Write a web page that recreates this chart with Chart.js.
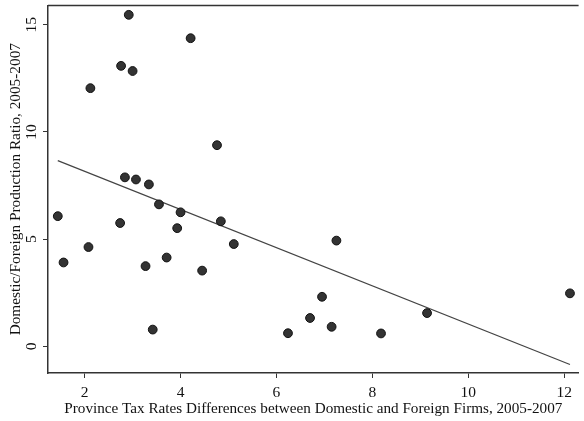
<!DOCTYPE html>
<html>
<head>
<meta charset="utf-8">
<script src="https://cdn.jsdelivr.net/npm/chart.js@4"></script>
<style>
  html, body { margin: 0; padding: 0; background: #fff; }
  #wrap { width: 584px; height: 421px; position: relative; }
</style>
</head>
<body>
<div id="wrap"><canvas id="chart"></canvas></div>
<script>
/* data */
const taxDiff = [1.44, 1.56, 2.08, 2.12, 2.76, 2.92, 3.0, 2.74, 2.84, 3.07, 3.34, 3.27, 3.42, 3.55, 3.71,
  3.93, 4.0, 4.21, 4.45, 4.76, 4.84, 5.11, 6.24, 6.70, 6.95, 7.15, 7.25, 8.18, 9.14, 12.12];
const prodRatio = [6.07, 3.91, 4.63, 12.04, 13.08, 15.46, 12.84, 5.75, 7.88, 7.78, 7.55, 3.74, 0.78, 6.62, 4.14,
  5.51, 6.25, 14.37, 3.53, 9.38, 5.83, 4.77, 0.61, 1.32, 2.31, 0.91, 4.93, 0.6, 1.55, 2.47];
const fitX = [1.44, 12.12];
const fitY = [8.66, -0.85];
const xTicks = [2, 4, 6, 8, 10, 12];
const yTicks = [0, 5, 10, 15];

const serif = "'Liberation Serif', 'DejaVu Serif', serif";
const axisColor = "#333";

const frameTop = {
  id: "frameTop",
  afterDraw(chart) {
    const { ctx, chartArea: a } = chart;
    ctx.save();
    ctx.strokeStyle = axisColor;
    ctx.lineWidth = 1.5;
    ctx.beginPath();
    ctx.moveTo(a.left, a.top);
    ctx.lineTo(a.right, a.top);
    ctx.stroke();
    ctx.restore();
  }
};

new Chart(document.getElementById("chart"), {
  type: "scatter",
  data: {
    datasets: [
      {
        type: "scatter",
        data: taxDiff.map((x, i) => ({ x, y: prodRatio[i] })),
        backgroundColor: "#333",
        borderColor: "#111",
        borderWidth: 1,
        pointRadius: 4.4,
        order: 1
      },
      {
        type: "line",
        data: fitX.map((x, i) => ({ x, y: fitY[i] })),
        borderColor: "#444",
        borderWidth: 1.2,
        pointRadius: 0,
        fill: false,
        order: 2
      }
    ]
  },
  options: {
    responsive: true,
    maintainAspectRatio: false,
    animation: false,
    layout: { padding: { top: 5, right: 0, left: 0, bottom: 0 } },
    plugins: { legend: { display: false }, tooltip: { enabled: false } },
    scales: {
      x: {
        type: "linear",
        min: 1.236,
        max: 12.3,
        afterBuildTicks: s => { s.ticks = xTicks.map(v => ({ value: v })); },
        afterFit: s => { s.height = 48; s.paddingLeft = 0; s.paddingRight = 0; },
        border: { color: axisColor, width: 1.5 },
        grid: { drawOnChartArea: false, drawTicks: true, tickLength: 5, color: axisColor },
        ticks: { color: "#111", font: { family: serif, size: 15.5 }, padding: 6, maxRotation: 0 },
        title: { display: true, text: "Province Tax Rates Differences between Domestic and Foreign Firms, 2005-2007",
          color: "#111", font: { family: serif, size: 15.2 }, padding: { top: 0, bottom: 3 } }
      },
      y: {
        type: "linear",
        min: -1.245,
        max: 15.9,
        afterBuildTicks: s => { s.ticks = yTicks.map(v => ({ value: v })); },
        afterFit: s => { s.width = 48; s.paddingTop = 0; s.paddingBottom = 0; },
        border: { color: axisColor, width: 1.5 },
        grid: { drawOnChartArea: false, drawTicks: true, tickLength: 5, color: axisColor },
        ticks: { color: "#111", font: { family: serif, size: 15.5 }, padding: 3, crossAlign: "center",
          minRotation: 90, maxRotation: 90 },
        title: { display: true, text: "Domestic/Foreign Production Ratio, 2005-2007",
          color: "#111", font: { family: serif, size: 15.3 }, padding: { top: 7, bottom: 0 } }
      }
    }
  },
  plugins: [frameTop]
});
</script>
</body>
</html>
